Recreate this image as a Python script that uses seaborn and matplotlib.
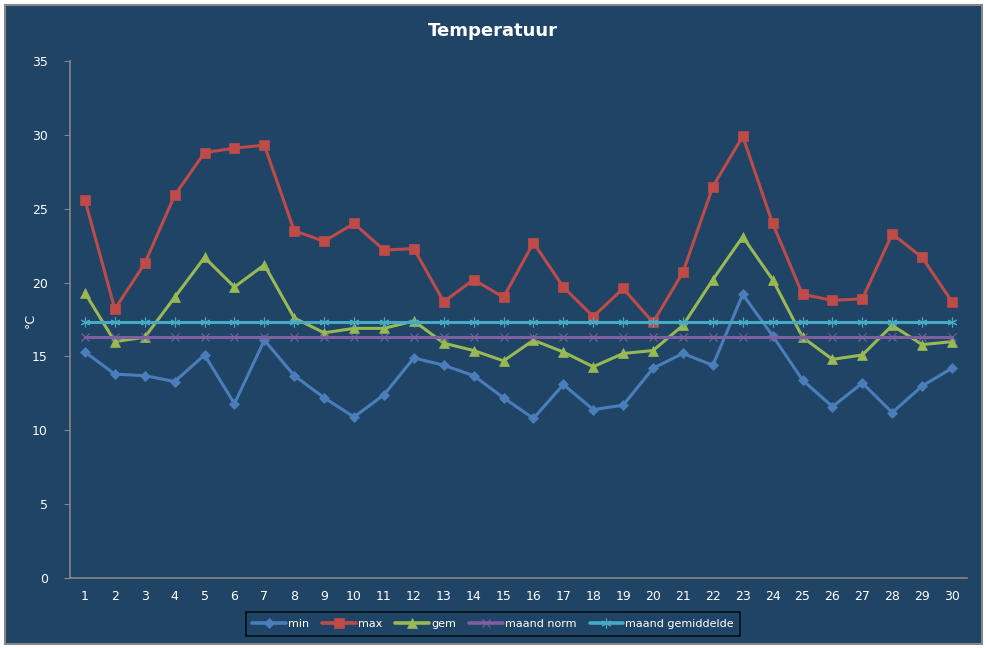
import numpy as np
import pandas as pd
import matplotlib
matplotlib.use("Agg")
import matplotlib.pyplot as plt
import seaborn as sns
from matplotlib.patches import Rectangle
from matplotlib.lines import Line2D

# values
dagen = list(range(1, 31))
t_min = [15.3, 13.8, 13.7, 13.3, 15.1, 11.8, 16.1, 13.7, 12.2, 10.9,
         12.4, 14.9, 14.4, 13.7, 12.2, 10.8, 13.1, 11.4, 11.7, 14.2,
         15.2, 14.4, 19.2, 16.4, 13.4, 11.6, 13.2, 11.2, 13.0, 14.2]
t_max = [25.6, 18.2, 21.3, 25.9, 28.8, 29.1, 29.3, 23.5, 22.8, 24.0,
         22.2, 22.3, 18.7, 20.2, 19.0, 22.7, 19.7, 17.7, 19.6, 17.3,
         20.7, 26.5, 29.9, 24.0, 19.2, 18.8, 18.9, 23.3, 21.7, 18.7]
t_gem = [19.3, 16.0, 16.3, 19.0, 21.7, 19.7, 21.2, 17.6, 16.6, 16.9,
         16.9, 17.4, 15.9, 15.4, 14.7, 16.1, 15.3, 14.3, 15.2, 15.4,
         17.1, 20.2, 23.1, 20.2, 16.3, 14.8, 15.1, 17.1, 15.8, 16.0]
maand_norm = [16.3] * 30
maand_gem = [17.3] * 30

reeksen = ["min", "max", "gem", "maand norm", "maand gemiddelde"]
waarden = [t_min, t_max, t_gem, maand_norm, maand_gem]
kleuren = ["#4A7EBB", "#BE4B48", "#98B954", "#7D60A0", "#46AAC5"]
markers = ["D", "s", "^", "x", (6, 2, 0)]
msizes = [5, 6.5, 6.5, 6, 7]

bg = "#1F4466"
grijs = "#878787"

df = pd.DataFrame({"dag": dagen * len(reeksen),
                   "temp": sum(waarden, []),
                   "reeks": np.repeat(reeksen, 30)})

sns.set_style("white")
fig = plt.figure(figsize=(9.87, 6.48), dpi=100, facecolor="white")
fig.patches.append(Rectangle((5 / 987, 4 / 648), 977 / 987, 639 / 648,
                             transform=fig.transFigure, facecolor=bg,
                             edgecolor=grijs, linewidth=1.5, zorder=-10))
ax = fig.add_axes([70 / 987, 70 / 648, 897 / 987, 517 / 648])
ax.set_facecolor(bg)

handles = []
for naam, kl, mk, ms in zip(reeksen, kleuren, markers, msizes):
    sub = df[df["reeks"] == naam]
    dun = mk in ("x", (6, 2, 0))
    sns.lineplot(data=sub, x="dag", y="temp", ax=ax, color=kl, lw=2.2,
                 marker=mk, markersize=ms, markeredgecolor=kl,
                 markeredgewidth=0.8 if dun else 0.5)
    handles.append(Line2D([], [], color=kl, lw=2.6, marker=mk, markersize=ms,
                          markeredgewidth=0.8 if dun else 0.5,
                          markeredgecolor=kl, label=naam))

ax.set_xlim(0.5, 30.5)
ax.set_ylim(0, 35)
ax.set_yticks(range(0, 36, 5))
ax.set_xticks(dagen)
ax.set_xticks(np.arange(0.5, 31, 1), minor=True)
ax.tick_params(axis="x", which="major", length=0, pad=9, labelsize=9, labelcolor="white")
ax.tick_params(axis="x", which="minor", length=4, color=grijs, direction="out")
ax.tick_params(axis="y", length=4, color=grijs, direction="out", pad=12,
               labelsize=9, labelcolor="white", left=True)
ax.spines["top"].set_visible(False)
ax.spines["right"].set_visible(False)
for s in ("left", "bottom"):
    ax.spines[s].set_color(grijs)
    ax.spines[s].set_linewidth(1.2)

ax.set_xlabel("")
ax.set_ylabel("")
fig.text(30 / 987, 1 - 320 / 648, "°C", color="white", fontsize=9,
         rotation=90, ha="center", va="center")
fig.text(493 / 987, 1 - 31 / 648, "Temperatuur", color="white", fontsize=13,
         fontweight="bold", ha="center", va="center")

leg = fig.legend(handles=handles, loc="center", ncol=5,
                 bbox_to_anchor=(493 / 987, 1 - 624 / 648), frameon=True,
                 fancybox=False, edgecolor="black", facecolor=bg,
                 fontsize=8, handlelength=3.0, columnspacing=1.2,
                 handletextpad=0.2, borderpad=0.6, borderaxespad=0)
leg.get_frame().set_linewidth(1.2)
for t in leg.get_texts():
    t.set_color("white")

fig.savefig("out.png", dpi=100, facecolor=fig.get_facecolor())
